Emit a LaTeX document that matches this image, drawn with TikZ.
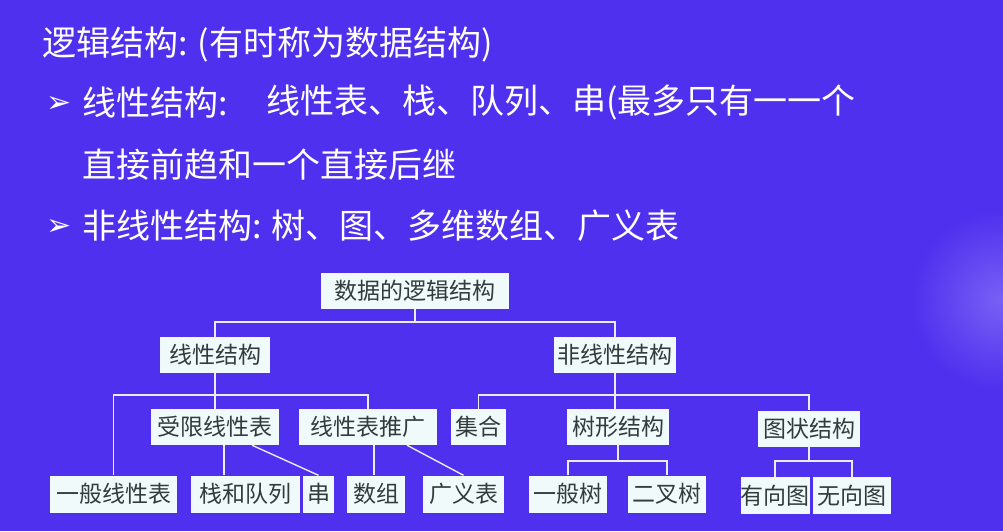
\documentclass[tikz,border=0pt]{standalone}
\usepackage{fontspec}
\setmainfont{Noto Sans CJK SC}
\newfontfamily\symf{DejaVu Sans}
\definecolor{bg}{RGB}{78,48,238}
\definecolor{bxfill}{RGB}{240,250,250}
\definecolor{bxtext}{RGB}{50,60,60}
\definecolor{ln}{RGB}{235,235,250}
\begin{document}
\begin{tikzpicture}[x=1pt,y=-1pt,
  bx/.style={draw=none,fill=bxfill,text=bxtext,inner sep=0pt,minimum height=36pt,font=\fontsize{23}{23}\selectfont},
  top/.style={anchor=west,text=white,inner sep=0pt,font=\fontsize{34}{34}\selectfont},
  conn/.style={draw=ln,line width=1.4pt}]
\fill[bg] (0,0) rectangle (1003,531);
\useasboundingbox (0,0) rectangle (1003,531);
\shade[inner color={rgb,255:red,120;green,95;blue,245},outer color=bg,draw=none] (1000,300) circle (90);
% top text
\node[top] (t1) at (42,45) {逻辑结构: (有时称为数据结构)};
\node[top,font=\symf\fontsize{30}{30}\selectfont] (b1) at (46,104) {➢};
\node[top] (t2) at (82,103) {线性结构:};
\node[top] (t2b) at (266,103) {线性表、栈、队列、串(最多只有一一个};
\node[top] (t3) at (82,165) {直接前趋和一个直接后继};
\node[top,font=\symf\fontsize{30}{30}\selectfont] (b2) at (46,227) {➢};
\node[top] (t4) at (82,226) {非线性结构: 树、图、多维数组、广义表};
% boxes
\node[bx,minimum width=188pt] (root) at (415,291) {数据的逻辑结构};
\node[bx,minimum width=110pt] (lin) at (215,355) {线性结构};
\node[bx,minimum width=122pt] (nonlin) at (615,355) {非线性结构};
\node[bx,minimum width=128pt] (sx) at (215,427) {受限线性表};
\node[bx,minimum width=138pt] (tg) at (368,427) {线性表推广};
\node[bx,minimum width=55pt] (jh) at (478.5,427) {集合};
\node[bx,minimum width=102pt] (sxjg) at (618,427) {树形结构};
\node[bx,minimum width=102pt] (tz) at (809,428.5) {图状结构};
\node[bx,minimum width=127pt,minimum height=37pt] (ybx) at (113.5,494) {一般线性表};
\node[bx,minimum width=109pt,minimum height=37pt] (zd) at (245.5,494) {栈和队列};
\node[bx,minimum width=31pt,minimum height=37pt] (ch) at (318.5,494) {串};
\node[bx,minimum width=58pt,minimum height=37pt] (sz) at (376,494) {数组};
\node[bx,minimum width=81pt,minimum height=37pt] (gy) at (463.5,494) {广义表};
\node[bx,minimum width=78pt,minimum height=37pt] (ybs) at (568,494) {一般树};
\node[bx,minimum width=78pt,minimum height=37pt] (ecs) at (667,494) {二叉树};
\node[bx,minimum width=58pt,minimum height=37pt] (yx) at (775,495.5) {有向图};
\node[bx,minimum width=78pt,minimum height=37pt] (wx) at (852,495.5) {无向图};
% connectors
\draw[conn] (root.south) -- (root.south |- 0,322);
\draw[conn] (lin.north) -- (lin.north |- 0,322) -| (nonlin.north);
\draw[conn] (lin.south) -- (sx.north);
\draw[conn] (ybx.north) -- (ybx.north |- 0,395) -| (tg.north);
\draw[conn] ([xshift=9pt]sx.south) -- ([xshift=9pt]sx.south |- zd.north);
\draw[conn] ([xshift=37pt]sx.south) -- (ch.north);
\draw[conn] ([xshift=6pt]tg.south) -- ([xshift=6pt]tg.south |- sz.north);
\draw[conn] ([xshift=39pt]tg.south) -- (gy.north);
\draw[conn] (nonlin.south) -- (nonlin.south |- sxjg.north);
\draw[conn] (jh.north) -- (jh.north |- 0,395) -| (tz.north);
\draw[conn] (sxjg.south) -- (sxjg.south |- 0,461);
\draw[conn] (ybs.north) -- (ybs.north |- 0,461) -| (ecs.north);
\draw[conn] (tz.south) -- (tz.south |- 0,461);
\draw[conn] (yx.north) -- (yx.north |- 0,461) -| (wx.north);
\end{tikzpicture}
\end{document}
